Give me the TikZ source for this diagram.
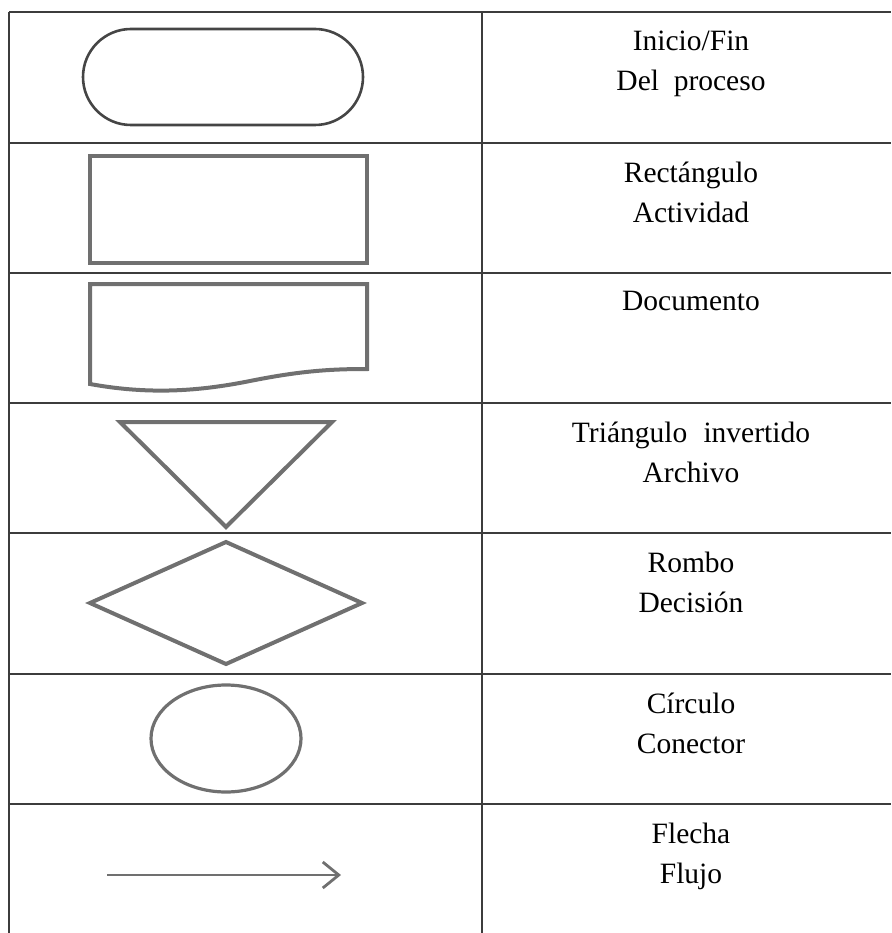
\documentclass[tikz,border=0pt]{standalone}
\usepackage{fontspec}
\setmainfont{Liberation Serif}
\newfontfamily\labelfont{Liberation Serif}
\usetikzlibrary{shapes.misc,shapes.geometric,arrows.meta}
\definecolor{gridc}{HTML}{3C3C3C}
\definecolor{shapec}{HTML}{707070}
\definecolor{termc}{HTML}{454545}
\tikzset{
  grid/.style={draw=gridc, line width=1.6pt},
  symb/.style={draw=shapec, line width=4pt, line join=miter},
  label/.style={anchor=north, align=center, inner sep=0pt, font=\labelfont\fontsize{29.5}{40}\selectfont},
}
\begin{document}
\begin{tikzpicture}[x=1pt,y=-1pt]
\useasboundingbox (0,0) rectangle (891,933);
% table grid
\draw[grid] (9,12) -- (891,12);
\foreach \yy in {143,273,403,533,674,804}{\draw[grid] (9,\yy) -- (891,\yy);}
\draw[grid] (9,12) -- (9,933);
\draw[grid] (482,12) -- (482,933);
% symbols
\node[draw=termc, line width=2.6pt, rounded rectangle, minimum width=280pt, minimum height=96pt, inner sep=0pt] (term) at (223,77) {};
\node[draw=shapec, line width=4.5pt, rectangle, minimum width=277pt, minimum height=107pt, inner sep=0pt] (act) at (228.5,209.5) {};
\draw[symb] (367,369) -- (367,284) -- (90,284) -- (90,384)
  .. controls (150,395) and (200,391) .. (250,381)
  .. controls (300,371) and (330,369) .. (367,369) -- cycle;
\draw[symb] (120,422) -- (332,422) -- (226,527) -- cycle;
\draw[symb] (226,542) -- (362,603) -- (226,664) -- (90,603) -- cycle;
\node[draw=shapec, line width=3.2pt, ellipse, minimum width=150pt, minimum height=107pt, inner sep=0pt] (conn) at (226,738.5) {};
\coordinate (fa) at (107,875);
\coordinate (fb) at (341,875);
\draw[draw=shapec, line width=2.8pt, -{Straight Barb[length=16pt,width=26pt,line width=2.8pt]}] (fa) -- (fb);
% labels
\node[label] (t1) at (691,31) {Inicio/Fin\\Del\hspace{0.5em}proceso};
\node[label] (t2) at (691,162) {Rectángulo\\Actividad};
\node[label] (t3) at (691,291) {Documento};
\node[label] (t4) at (691,422) {Triángulo\hspace{0.55em}invertido\\Archivo};
\node[label] (t5) at (691,552) {Rombo\\Decisión};
\node[label] (t6) at (691,693) {Círculo\\Conector};
\node[label] (t7) at (691,823) {Flecha\\Flujo};
\end{tikzpicture}
\end{document}
